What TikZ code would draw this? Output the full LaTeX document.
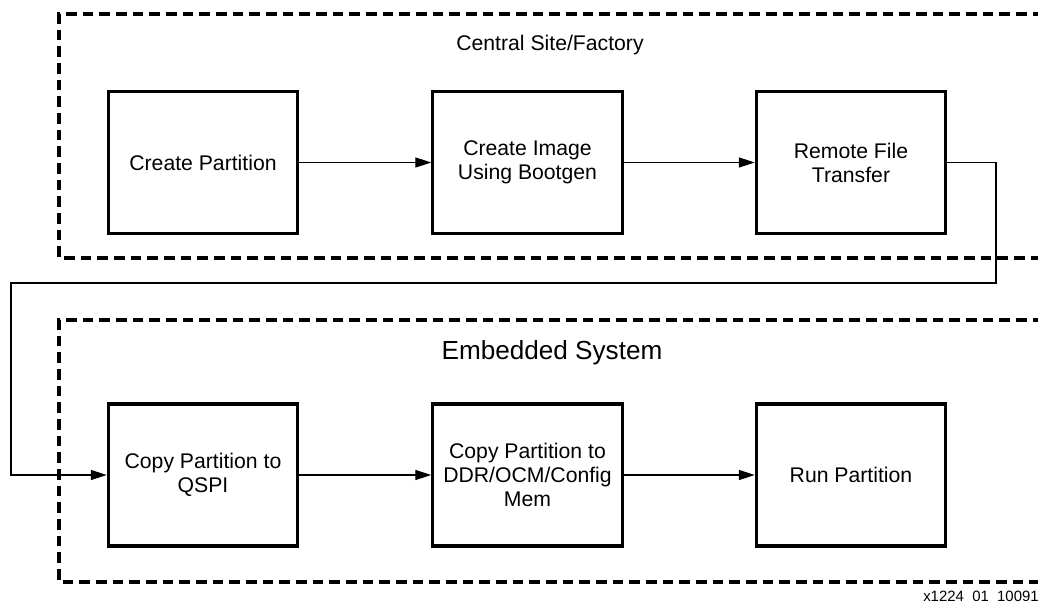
\documentclass[tikz,border=0pt]{standalone}
\usepackage{fontspec}
\setmainfont{Liberation Sans}
\usetikzlibrary{arrows.meta}

\begin{document}
\begin{tikzpicture}[
  x=0.75pt, y=-0.75pt,
  stepbox/.style={draw, line width=2.3pt, minimum width=142pt, minimum height=106.5pt,
    align=center, inner sep=0pt, font=\fontsize{15.9}{18}\selectfont},
  zone/.style={draw, line width=2.3pt, dash pattern=on 8pt off 4.5pt},
  conn/.style={draw, line width=1pt},
  flow/.style={conn, -{Triangle[length=12pt,width=7.5pt]}},
]
\clip (0,0) rectangle (1038,605);
\fill[white] (0,0) rectangle (1038,605);

% site outlines, open to the right
\draw[zone] (1060,14) -| (59,258) -- (1060,258);
\draw[zone] (1060,320) -| (59,582) -- (1060,582);

\node[font=\fontsize{15.9}{18}\selectfont] (site) at (550,45.5) {Central Site/Factory};
\node[font=\fontsize{19.6}{22}\selectfont] (emb) at (552,353) {Embedded System};

% factory steps
\node[stepbox] (cp)  at (203,162.5)   {Create Partition};
\node[stepbox] (ci)  at (527.5,162.5) {Create Image\\Using Bootgen};
\node[stepbox] (rft) at (851,162.5)   {Remote File\\Transfer};

% embedded steps
\node[stepbox] (cpq) at (203,475)   {Copy Partition to\\QSPI};
\node[stepbox] (cpd) at (527.5,475) {Copy Partition to\\DDR/OCM/Config\\Mem};
\node[stepbox] (run) at (851,475)   {Run Partition};

\draw[flow] (cp) -- (ci);
\draw[flow] (ci) -- (rft);
\draw[flow] (cpq) -- (cpd);
\draw[flow] (cpd) -- (run);

% transfer from the factory down to the embedded system
\coordinate (tr) at (996,283);
\coordinate (tl) at (11,283);
\draw[flow] (rft.east) -| (tr) -- (tl) |- (cpq.west);

\node[anchor=base west, font=\fontsize{11.2}{13}\selectfont, inner sep=0pt] (fig) at (923,601)
  {x1224\hspace{0.556em}01\hspace{0.556em}100914};
\end{tikzpicture}
\end{document}
